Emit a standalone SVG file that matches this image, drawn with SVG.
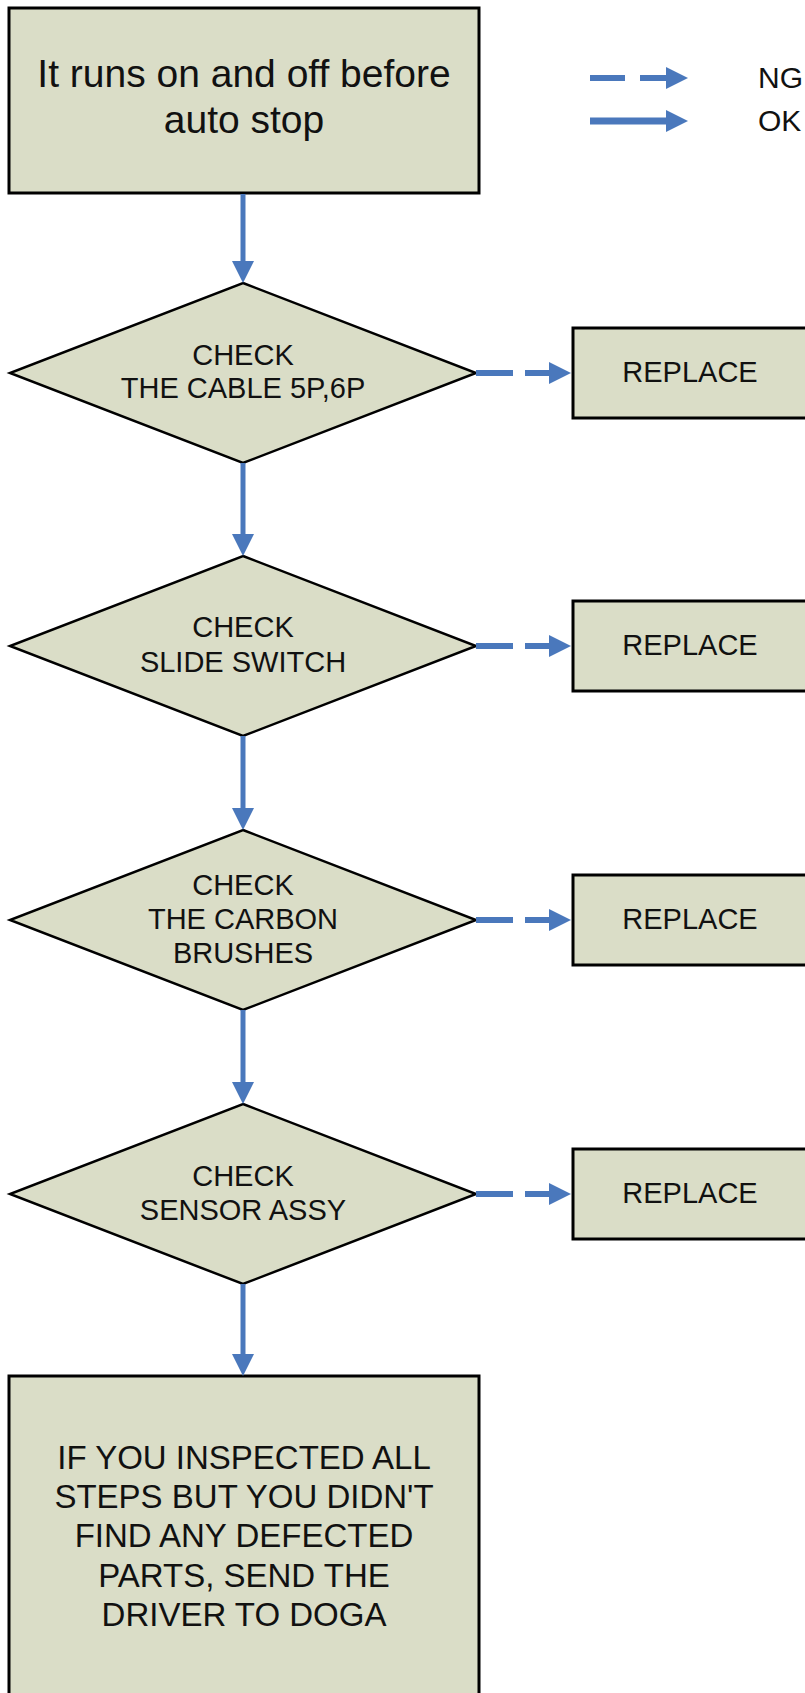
<svg xmlns="http://www.w3.org/2000/svg" width="805" height="1693" viewBox="0 0 805 1693">
  <style>
    .box { fill: #DADDC7; stroke: #000; stroke-width: 3; }
    .dia { fill: #DADDC7; stroke: #000; stroke-width: 2.5; }
    .t { font-family: "Liberation Sans", Arial, sans-serif; fill: #111; text-anchor: middle; }
    .t39 { font-size: 39px; }
    .t33 { font-size: 33px; }
    .t29 { font-size: 29px; }
    .lg { font-family: "Liberation Sans", Arial, sans-serif; font-size: 30px; fill: #111; }
    .ok { stroke: #4A78BC; stroke-width: 5; fill: none; marker-end: url(#ah); }
    .ng { stroke: #4A78BC; stroke-width: 6; fill: none; stroke-dasharray: 37 12; marker-end: url(#ah); }
  </style>
  <defs>
    <marker id="ah" markerUnits="userSpaceOnUse" markerWidth="24" markerHeight="24" refX="10" refY="11" orient="auto">
      <path d="M0,0 L22,11 L0,22 Z" fill="#4A78BC"/>
    </marker>
  </defs>
  <rect width="805" height="1693" fill="#fff"/>

  <g id="legend">
    <line x1="590" y1="78" x2="676" y2="78" stroke="#4A78BC" stroke-width="6" stroke-dasharray="35 15" marker-end="url(#ah)"/>
    <line x1="590" y1="121" x2="676" y2="121" stroke="#4A78BC" stroke-width="7" marker-end="url(#ah)"/>
    <text class="lg" x="758" y="88">NG</text>
    <text class="lg" x="758" y="131">OK</text>
  </g>

  <g id="start">
    <rect class="box" x="9" y="8" width="470" height="185"/>
    <text class="t t39" x="244" y="87">It runs on and off before</text>
    <text class="t t39" x="244" y="133">auto stop</text>
  </g>

  <g id="check1">
    <polygon class="dia" points="243,283 476,373 243,463 10,373"/>
    <text class="t t29" x="243" y="365">CHECK</text>
    <text class="t t29" x="243" y="398">THE CABLE 5P,6P</text>
  </g>
  <g id="replace1">
    <rect class="box" x="573" y="328" width="250" height="90"/>
    <text class="t t29" x="690" y="382">REPLACE</text>
  </g>

  <g id="check2">
    <polygon class="dia" points="243,556 476,646 243,736 10,646"/>
    <text class="t t29" x="243" y="637">CHECK</text>
    <text class="t t29" x="243" y="672">SLIDE SWITCH</text>
  </g>
  <g id="replace2">
    <rect class="box" x="573" y="601" width="250" height="90"/>
    <text class="t t29" x="690" y="655">REPLACE</text>
  </g>

  <g id="check3">
    <polygon class="dia" points="243,830 476,920 243,1010 10,920"/>
    <text class="t t29" x="243" y="895">CHECK</text>
    <text class="t t29" x="243" y="929">THE CARBON</text>
    <text class="t t29" x="243" y="963">BRUSHES</text>
  </g>
  <g id="replace3">
    <rect class="box" x="573" y="875" width="250" height="90"/>
    <text class="t t29" x="690" y="929">REPLACE</text>
  </g>

  <g id="check4">
    <polygon class="dia" points="243,1104 476,1194 243,1284 10,1194"/>
    <text class="t t29" x="243" y="1186">CHECK</text>
    <text class="t t29" x="243" y="1220">SENSOR ASSY</text>
  </g>
  <g id="replace4">
    <rect class="box" x="573" y="1149" width="250" height="90"/>
    <text class="t t29" x="690" y="1203">REPLACE</text>
  </g>

  <g id="end">
    <rect class="box" x="9" y="1376" width="470" height="340"/>
    <text class="t t33" x="244" y="1469">IF YOU INSPECTED ALL</text>
    <text class="t t33" x="244" y="1508">STEPS BUT YOU DIDN'T</text>
    <text class="t t33" x="244" y="1547">FIND ANY DEFECTED</text>
    <text class="t t33" x="244" y="1587">PARTS, SEND THE</text>
    <text class="t t33" x="244" y="1626">DRIVER TO DOGA</text>
  </g>

  <g id="connectors">
    <line class="ok" x1="243" y1="194" x2="243" y2="271"/>
    <line class="ok" x1="243" y1="463" x2="243" y2="544"/>
    <line class="ok" x1="243" y1="736" x2="243" y2="818"/>
    <line class="ok" x1="243" y1="1010" x2="243" y2="1092"/>
    <line class="ok" x1="243" y1="1284" x2="243" y2="1364"/>
    <line class="ng" x1="476" y1="373" x2="559" y2="373"/>
    <line class="ng" x1="476" y1="646" x2="559" y2="646"/>
    <line class="ng" x1="476" y1="920" x2="559" y2="920"/>
    <line class="ng" x1="476" y1="1194" x2="559" y2="1194"/>
  </g>
</svg>
